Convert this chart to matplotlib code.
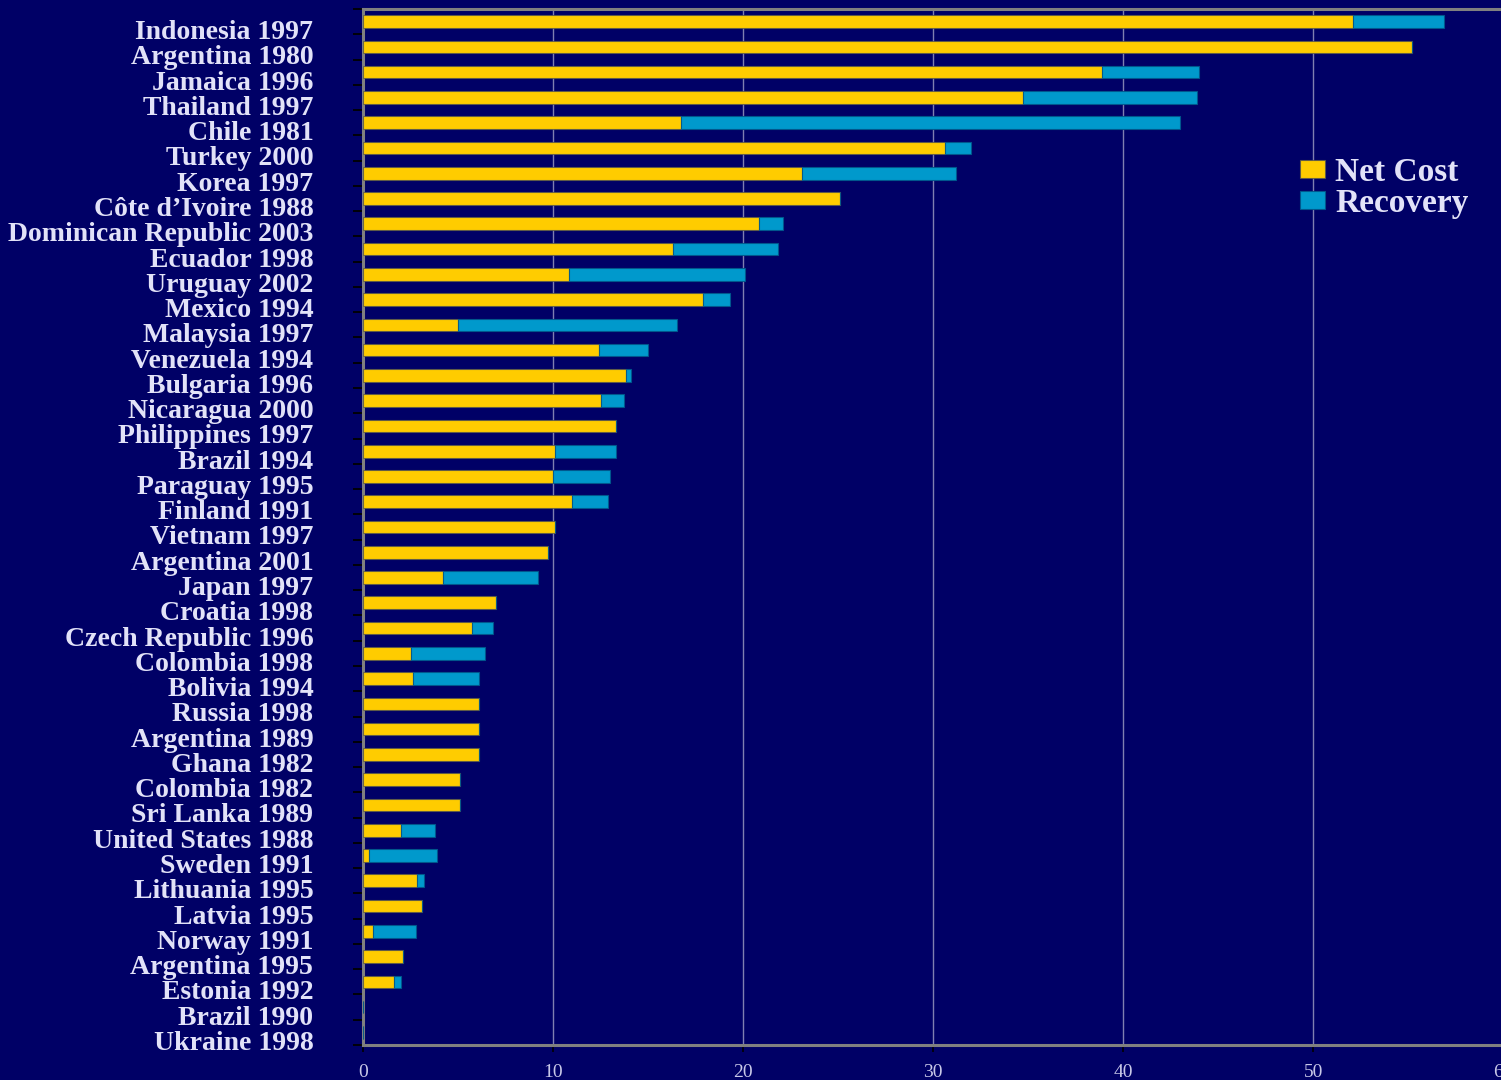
import matplotlib
matplotlib.use("Agg")
import matplotlib.pyplot as plt
from matplotlib.transforms import ScaledTranslation
import numpy as np

countries = [
    "Indonesia 1997", "Argentina 1980", "Jamaica 1996", "Thailand 1997", "Chile 1981",
    "Turkey 2000", "Korea 1997", "Côte d\u2019Ivoire 1988", "Dominican Republic 2003",
    "Ecuador 1998", "Uruguay 2002", "Mexico 1994", "Malaysia 1997", "Venezuela 1994",
    "Bulgaria 1996", "Nicaragua 2000", "Philippines 1997", "Brazil 1994", "Paraguay 1995",
    "Finland 1991", "Vietnam 1997", "Argentina 2001", "Japan 1997", "Croatia 1998",
    "Czech Republic 1996", "Colombia 1998", "Bolivia 1994", "Russia 1998", "Argentina 1989",
    "Ghana 1982", "Colombia 1982", "Sri Lanka 1989", "United States 1988", "Sweden 1991",
    "Lithuania 1995", "Latvia 1995", "Norway 1991", "Argentina 1995", "Estonia 1992",
    "Brazil 1990", "Ukraine 1998",
]
net_cost = [
    52.1, 55.2, 38.9, 34.7, 16.7,
    30.6, 23.1, 25.1, 20.8,
    16.3, 10.8, 17.9, 5.0, 12.4,
    13.8, 12.5, 13.3, 10.1, 10.0,
    11.0, 10.1, 9.7, 4.2, 7.0,
    5.7, 2.5, 2.6, 6.1, 6.1,
    6.1, 5.1, 5.1, 2.0, 0.3,
    2.8, 3.1, 0.5, 2.1, 1.6,
    0.0, 0.0,
]
recovery = [
    4.8, 0.0, 5.1, 9.2, 26.3,
    1.4, 8.1, 0.0, 1.3,
    5.5, 9.3, 1.4, 11.5, 2.6,
    0.3, 1.2, 0.0, 3.2, 3.0,
    1.9, 0.0, 0.0, 5.0, 0.0,
    1.1, 3.9, 3.5, 0.0, 0.0,
    0.0, 0.0, 0.0, 1.8, 3.6,
    0.4, 0.0, 2.3, 0.0, 0.4,
    0.0, 0.0,
]
x_ticks = [0, 10, 20, 30, 40, 50, 60]
series_names = ["Net Cost", "Recovery"]

BG = "#000066"
YELLOW = "#FFCC00"
BLUE = "#0099CC"
TXT = "#E2E2F8"
SERIF = ["Liberation Serif", "DejaVu Serif"]

W, H = 1501, 1080
fig = plt.figure(figsize=(W / 100, H / 100), dpi=100, facecolor=BG)
left = 363.3 / W
width = 1140.0 / W
top = 9.0 / H
bottom = 1045.0 / H
ax = fig.add_axes([left, 1 - bottom, width, bottom - top])
ax.set_facecolor(BG)

n = len(countries)
y = np.arange(n)
net = np.array(net_cost)
rec = np.array(recovery)

ax.barh(y, net, height=0.5, color=YELLOW, edgecolor=(0.35, 0.35, 0.3, 0.8),
        linewidth=0.8, label=series_names[0], zorder=3)
ax.barh(y, rec, left=net, height=0.5, color=BLUE, edgecolor=(0.0, 0.35, 0.55, 0.9),
        linewidth=0.8, label=series_names[1], zorder=3)

ax.set_xlim(0, 60)
ax.set_ylim(n - 0.5, -0.5)

# grid
ax.set_xticks(x_ticks)
ax.set_xticklabels([str(t) for t in x_ticks], fontfamily=SERIF, fontsize=14, color="#C8C8E8")
ax.xaxis.grid(True, color="#7F7FB0", linewidth=1.0, zorder=0)
ax.set_axisbelow(True)
ax.tick_params(axis="x", direction="out", length=5, width=1.2, color="black", pad=9)

# y labels at centres, tick marks at boundaries
ax.set_yticks(y)
ax.set_yticklabels(countries, fontfamily=SERIF, fontsize=20, fontweight="bold", color=TXT)
ax.tick_params(axis="y", which="major", length=0, pad=36)
ax.set_yticks(np.arange(n + 1) - 0.5, minor=True)
ax.tick_params(axis="y", which="minor", direction="out", length=7.5, width=1.3, color="black")
offset = ScaledTranslation(0, -8 / 100, fig.dpi_scale_trans)
for lbl in ax.get_yticklabels():
    lbl.set_transform(lbl.get_transform() + offset)

for side in ["top", "bottom", "left"]:
    ax.spines[side].set_color("#808080")
    ax.spines[side].set_linewidth(2.2)
ax.spines["right"].set_visible(False)

leg = fig.legend(loc="center left", bbox_to_anchor=(1300 / W, 1 - 188 / H),
                 frameon=False, borderpad=0, borderaxespad=0,
                 handlelength=0.75, handleheight=0.45, handletextpad=0.3,
                 labelspacing=0.0,
                 prop={"family": SERIF, "size": 24, "weight": "bold"})
for t in leg.get_texts():
    t.set_color(TXT)

fig.savefig("out.png", dpi=100, facecolor=BG)
